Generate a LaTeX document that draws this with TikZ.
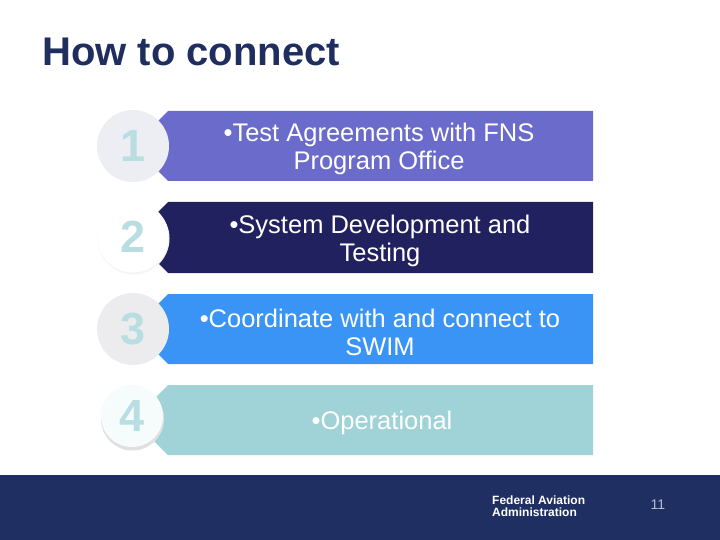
\documentclass[tikz,border=0pt]{standalone}
\usepackage{fontspec}
\setmainfont{Liberation Sans}
\usetikzlibrary{positioning}
\definecolor{faanavy}{HTML}{1F2D5F}
\definecolor{bandnavy}{HTML}{1F2F62}
\definecolor{barone}{HTML}{6B6BCB}
\definecolor{bartwo}{HTML}{22215F}
\definecolor{barthree}{HTML}{3994F5}
\definecolor{barfour}{HTML}{9FD3D8}
\definecolor{numteal}{HTML}{B8DEE2}
\definecolor{pagegray}{HTML}{B4BCD2}
\definecolor{ringone}{HTML}{ECEEF3}
\definecolor{ringthree}{HTML}{ECECEF}
\definecolor{ringfour}{HTML}{F6FBFC}

\begin{document}
\begin{tikzpicture}[x=1pt,y=-1pt,
                    num circle/.style={circle,inner sep=0pt,text=numteal,
                      font=\fontsize{45}{45}\selectfont\bfseries},
                    bar text/.style={text=white,align=center,
                      font=\fontsize{25.5}{28}\selectfont},
                    shade ring/.style={fill=black!12}
                   ]
  \useasboundingbox (0,0) rectangle (720,540);
  \fill[white] (0,0) rectangle (720,540);

  % title
  \node[anchor=base west,inner sep=0pt,text=faanavy,
        font=\fontsize{40}{40}\selectfont\bfseries] (title) at (42,66) {How to connect};

  % bars
  \fill[barone]   (168,111) -- (593,111) -- (593,181) -- (168,181) -- (133,146) -- cycle;
  \fill[bartwo]   (168,202) -- (593,202) -- (593,273) -- (168,273) -- (133,237.5) -- cycle;
  \fill[barthree] (168,294) -- (593,294) -- (593,364) -- (168,364) -- (133,329) -- cycle;
  \fill[barfour]  (168,385) -- (593,385) -- (593,455) -- (168,455) -- (133,420) -- cycle;

  \node[bar text] (t1) at (379,149) {•Test Agreements with FNS\\Program Office};
  \node[bar text] (t2) at (380,240.5) {•System Development and\\Testing};
  \node[bar text] (t3) at (380,332) {•Coordinate with and connect to\\SWIM};
  \node[bar text] (t4) at (382,423) {•Operational};

  % circles
  \fill[shade ring,fill=black!4] (133.5,238.5) circle (36);
  \fill[shade ring] (132.5,419) circle (31.5);
  \node[num circle,fill=ringone,minimum size=72pt] (c1) at (133,146) {1};
  \node[num circle,fill=white,minimum size=71pt] (c2) at (133,237) {2};
  \node[num circle,fill=ringthree,minimum size=72pt] (c3) at (133,329) {3};
  \node[num circle,fill=ringfour,minimum size=62pt] (c4) at (132,416) {4};

  % footer
  \fill[bandnavy] (0,475) rectangle (720,540);
  \node[anchor=north west,inner sep=0pt,text=white,align=left,
        font=\fontsize{12}{12}\selectfont\bfseries] (faa) at (492,496) {Federal Aviation\\Administration};
  \node[anchor=base,inner sep=0pt,text=pagegray,
        font=\fontsize{14}{14}\selectfont] (page) at (658,509) {11};
\end{tikzpicture}
\end{document}
